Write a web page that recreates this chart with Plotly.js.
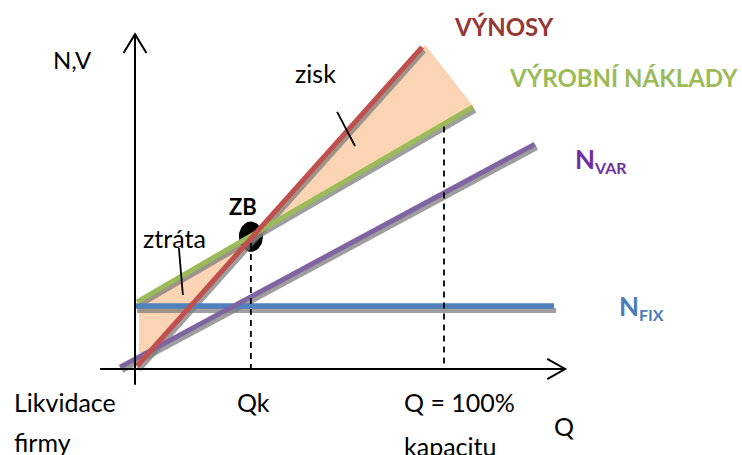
<!DOCTYPE html>
<html>
<head>
<meta charset="utf-8">
<script src="https://cdn.plot.ly/plotly-3.0.1.min.js"></script>
<style>
  html, body { margin: 0; padding: 0; background: #fff; }
  #chart { width: 742px; height: 455px; }
</style>
</head>
<body>
<div id="chart"></div>
<script>
// Break-even diagram: quantity Q on the x axis, costs / revenues (N,V) on the y axis.

// Revenue line (VÝNOSY)
const revenueQ = [0.65, 92.9];
const revenueV = [0.95, 102.2];

// Total production costs (VÝROBNÍ NÁKLADY)
const costQ = [0.65, 109.4];
const costV = [21.3, 83.2];

// Variable costs (N_VAR)
const varQ = [-4.85, 129.4];
const varV = [0.6, 71.4];

// Fixed costs (N_FIX)
const fixQ = [0, 135.6];
const fixV = [20, 20];

// Break-even point ZB and full capacity
const breakEvenQ = 37.5;
const breakEvenV = 42;
const capacityQ = 100;
const capacityV = 77;

// Shaded profit and loss areas
const profitQ = [37.5, 93.9, 109.4];
const profitV = [42, 102.9, 83.5];
const lossQ = [1.3, 37.5, 4.4, 1.3];
const lossV = [21.3, 41.9, 5.1, 5.1];

// Axis extent
const axisQ = [-11.3, 139.2];
const axisV = [-5, 106.3];

const FONT = 'Lato, "Open Sans", sans-serif';
const SHADOW = 'rgba(125,125,125,0.75)';
const dQ = 0.65, dV = -1.1;   // drop-shadow offset in axis units

function shifted(arr, d) { return arr.map(v => v + d); }

function lineTrace(x, y, color, width) {
  return { type: 'scatter', mode: 'lines', x: x, y: y,
           line: { color: color, width: width }, hoverinfo: 'skip', showlegend: false };
}

// Break-even ellipse outline (radii given in axis units)
const rQ = 3.9, rV = 4.8;
const ellQ = [], ellV = [];
for (let i = 0; i <= 48; i++) {
  const a = 2 * Math.PI * i / 48;
  ellQ.push(breakEvenQ + rQ * Math.cos(a));
  ellV.push(breakEvenV + rV * Math.sin(a));
}

const traces = [
  { type: 'scatter', mode: 'lines', x: profitQ, y: profitV, fill: 'toself',
    fillcolor: '#FBD4B4', line: { width: 0 }, hoverinfo: 'skip', showlegend: false },
  { type: 'scatter', mode: 'lines', x: lossQ, y: lossV, fill: 'toself',
    fillcolor: '#FBD4B4', line: { width: 0 }, hoverinfo: 'skip', showlegend: false },
  { type: 'scatter', mode: 'lines', x: ellQ, y: ellV, fill: 'toself',
    fillcolor: '#000', line: { width: 0, color: '#000' }, hoverinfo: 'skip', showlegend: false },
  // shadows
  lineTrace(shifted(fixQ, dQ), shifted(fixV, dV * 1.3), SHADOW, 5),
  lineTrace(shifted(varQ, dQ), shifted(varV, dV), SHADOW, 5),
  lineTrace(shifted(costQ, dQ), shifted(costV, dV), SHADOW, 5),
  lineTrace(shifted(revenueQ, dQ), shifted(revenueV, dV), SHADOW, 5),
  // lines
  lineTrace(fixQ, fixV, '#4F81BD', 5.5),
  lineTrace(varQ, varV, '#8064A2', 5),
  lineTrace(costQ, costV, '#9BBB59', 5),
  lineTrace(revenueQ, revenueV, '#C0504D', 5)
];

const black = { color: '#000', width: 2 };
const dashed = { color: '#000', width: 1.8, dash: '6px,5px' };

const shapes = [
  // axes
  { type: 'line', xref: 'x', yref: 'y', x0: 0, x1: 0, y0: axisV[0], y1: axisV[1], line: black },
  { type: 'line', xref: 'x', yref: 'y', x0: axisQ[0], x1: axisQ[1], y0: 0, y1: 0, line: black },
  { type: 'path', xref: 'x', yref: 'y', line: black,
    path: `M ${-3.7},${axisV[1] - 6} L 0,${axisV[1]} L 3.7,${axisV[1] - 6}` },
  { type: 'path', xref: 'x', yref: 'y', line: black,
    path: `M ${axisQ[1] - 5.8},3.2 L ${axisQ[1]},0 L ${axisQ[1] - 5.8},-3.2` },
  // guide lines to Qk and full capacity
  { type: 'line', xref: 'x', yref: 'y', x0: breakEvenQ, x1: breakEvenQ, y0: breakEvenV - 2, y1: 0, line: dashed },
  { type: 'line', xref: 'x', yref: 'y', x0: capacityQ, x1: capacityQ, y0: capacityV, y1: 0, line: dashed },
  // label pointers
  { type: 'line', xref: 'x', yref: 'y', x0: 65.4, y0: 81.6, x1: 71.2, y1: 70.8, line: { color: '#000', width: 1.8 } },
  { type: 'line', xref: 'x', yref: 'y', x0: 14.2, y0: 38.4, x1: 15.5, y1: 23.5, line: { color: '#000', width: 1.8 } }
];

function label(text, x, y, size, color, opts) {
  return Object.assign({ text: text, x: x, y: y, xref: 'x', yref: 'y', showarrow: false,
    font: { family: FONT, size: size, color: color }, xanchor: 'center', yanchor: 'middle' }, opts || {});
}

const sub = t => `<sub><span style="font-size:16px">${t}</span></sub>`;

const annotations = [
  label('N,V', -20.1, 98.1, 24, '#000'),
  label('<b>VÝNOSY</b>', 119.3, 108.8, 24, '#953735'),
  label('<b>VÝROBNÍ NÁKLADY</b>', 158.1, 92.6, 24, '#9BBB59'),
  label('<b>N' + sub('VAR') + '</b>', 141.7, 66.2, 26, '#7030A0', { xanchor: 'left' }),
  label('<b>N' + sub('FIX') + '</b>', 156.0, 19.6, 26, '#4A7EBB', { xanchor: 'left' }),
  label('zisk', 58.3, 94.0, 25, '#000'),
  label('ztráta', 12.9, 41.6, 25, '#000'),
  label('<b>ZB</b>', 34.9, 51.7, 22, '#000'),
  label('Likvidace', -39.8, -10.6, 25, '#000', { xanchor: 'left' }),
  label('firmy', -39.8, -23.3, 25, '#000', { xanchor: 'left' }),
  label('Qk', 38.5, -10.6, 25, '#000'),
  label('Q = 100%', 86.4, -10.6, 25, '#000', { xanchor: 'left' }),
  label('kapacitu', 86.4, -24.4, 25, '#000', { xanchor: 'left' }),
  label('Q', 138.8, -18.1, 25, '#000')
];

const layout = {
  width: 742, height: 455,
  margin: { l: 0, r: 0, t: 0, b: 0 },
  paper_bgcolor: '#fff', plot_bgcolor: '#fff',
  xaxis: { range: [-43.69, 196.44], visible: false, fixedrange: true },
  yaxis: { range: [-27.30, 117.14], visible: false, fixedrange: true },
  shapes: shapes,
  annotations: annotations,
  showlegend: false
};

Plotly.newPlot('chart', traces, layout, { staticPlot: true, displayModeBar: false });
</script>
</body>
</html>
